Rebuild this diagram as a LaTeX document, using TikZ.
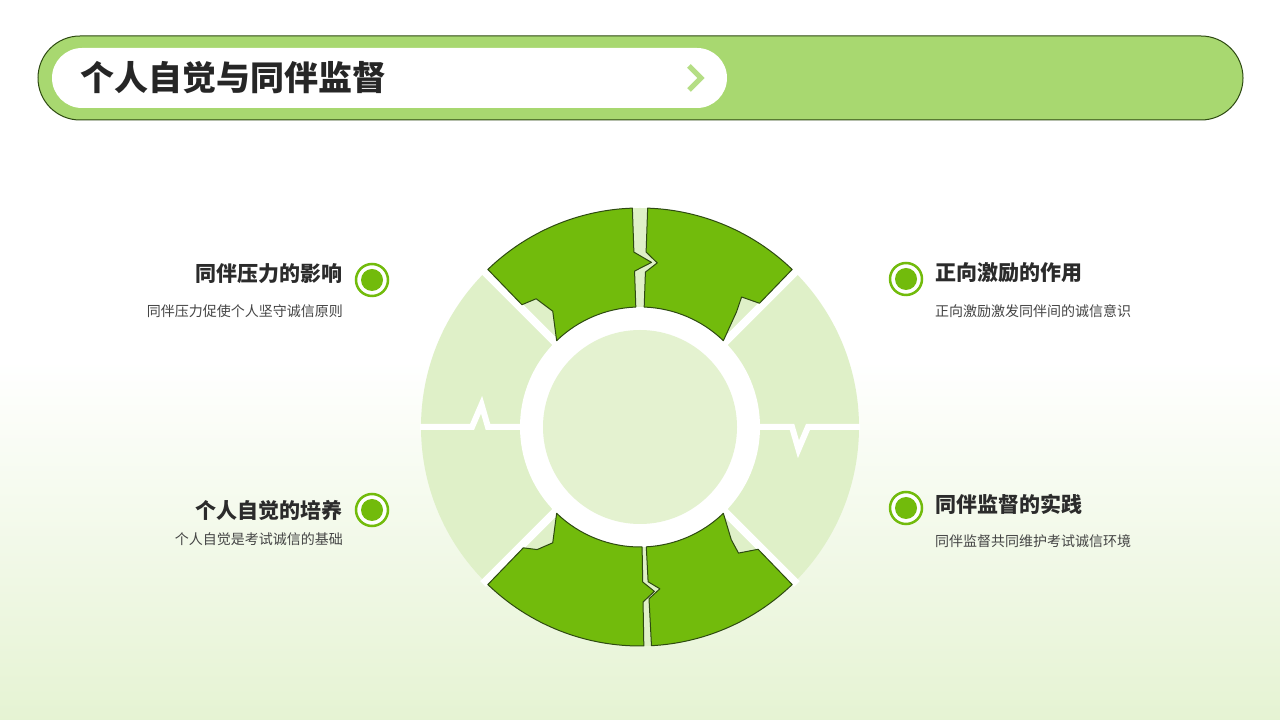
\documentclass[tikz,border=0pt]{standalone}
\usepackage{fontspec}
\setmainfont{Noto Sans CJK SC}
\begin{document}
\begin{tikzpicture}[x=1pt,y=1pt,
  gpiece/.style={fill=gr, draw=dk, line width=1pt, line join=round},
  marker/.style={circle, draw=gr, line width=2.5pt, fill=white, minimum size=32pt, inner sep=0pt, path picture={\fill[gr] (path picture bounding box.center) circle (11pt);}},
  head/.style={font=\bfseries\fontsize{21}{24}\selectfont, text=tx, inner sep=0pt},
  sub/.style={font=\fontsize{14}{17}\selectfont, text=tx2, inner sep=0pt}]
\definecolor{gr}{HTML}{72BB0C}
\definecolor{dk}{HTML}{2E4A12}
\definecolor{lg}{HTML}{DFF0C8}
\definecolor{bar}{HTML}{A8D870}
\definecolor{tx}{HTML}{2B2B2B}
\definecolor{tx2}{HTML}{444444}
\useasboundingbox (0,0) rectangle (1280,720);
\shade[top color=white, bottom color=white] (0,360) rectangle (1280,720);
\shade[top color=white, bottom color=lg!80] (0,0) rectangle (1280,360);
% title bar
\draw[fill=bar, draw=dk, line width=1pt, rounded corners=42pt] (38,600) rectangle (1243,684);
\fill[white, rounded corners=30pt] (52,612) rectangle (727,672);
\node[anchor=west, inner sep=0pt, font=\bfseries\fontsize{34}{38}\selectfont, text=black!85] (title) at (80,642) {个人自觉与同伴监督};
\draw[bar!85, line width=5pt, line join=miter] (689,654) -- (701,642) -- (689,630);
% ring
\begin{scope}[shift={(640,293)}]
\fill[lg] (0,0) circle (219);
\fill[white] (0,0) circle (120);
\fill[lg!85] (0,0) circle (97);
\draw[white, line width=6pt] (180:120) -- (180:152) -- (172:160) -- (180:168) -- (180:220);
\draw[white, line width=6pt] (0:120) -- (0:152) -- (-8:160) -- (0:168) -- (0:220);
\foreach \a in {45,135,225,315} \draw[white, line width=8pt] (\a:118) -- (\a:222);
% top-left
\path[gpiece] (134:219) arc (134:92:219) -- (92:175) -- (86:165) -- (92:156) -- (92:120) arc (92:134:120) -- (127:145) -- (129:165) -- (134:170) -- cycle;
% top-right
\path[gpiece] (88:219) arc (88:46:219) -- (46:172) -- (52:165) -- (50:150) -- (46:120) arc (46:88:120) -- (88:155) -- (84:165) -- (88:175) -- cycle;
% bottom-left
\path[gpiece] (226:219) arc (226:271:219) -- (271:175) -- (275:165) -- (271:155) -- (271:120) arc (271:226:120) -- (233:145) -- (230:160) -- (226:168) -- cycle;
% bottom-right
\path[gpiece] (273:219) arc (273:314:219) -- (314:170) -- (308:160) -- (309:145) -- (314:120) arc (314:273:120) -- (273:155) -- (277:163) -- (273:172) -- cycle;
\end{scope}
% markers and texts
\node[marker] (m1) at (372,440) {};
\node[marker] (m2) at (906,441) {};
\node[marker] (m3) at (372,210) {};
\node[marker] (m4) at (906,212) {};
\node[head, anchor=east] (h1) at (343,446) {同伴压力的影响};
\node[sub, anchor=east] (s1) at (343,409) {同伴压力促使个人坚守诚信原则};
\node[head, anchor=west] (h2) at (935,447) {正向激励的作用};
\node[sub, anchor=west] (s2) at (935,409) {正向激励激发同伴间的诚信意识};
\node[head, anchor=east] (h3) at (343,210) {个人自觉的培养};
\node[sub, anchor=east] (s3) at (343,181) {个人自觉是考试诚信的基础};
\node[head, anchor=west] (h4) at (935,216) {同伴监督的实践};
\node[sub, anchor=west] (s4) at (935,179) {同伴监督共同维护考试诚信环境};
\end{tikzpicture}
\end{document}
